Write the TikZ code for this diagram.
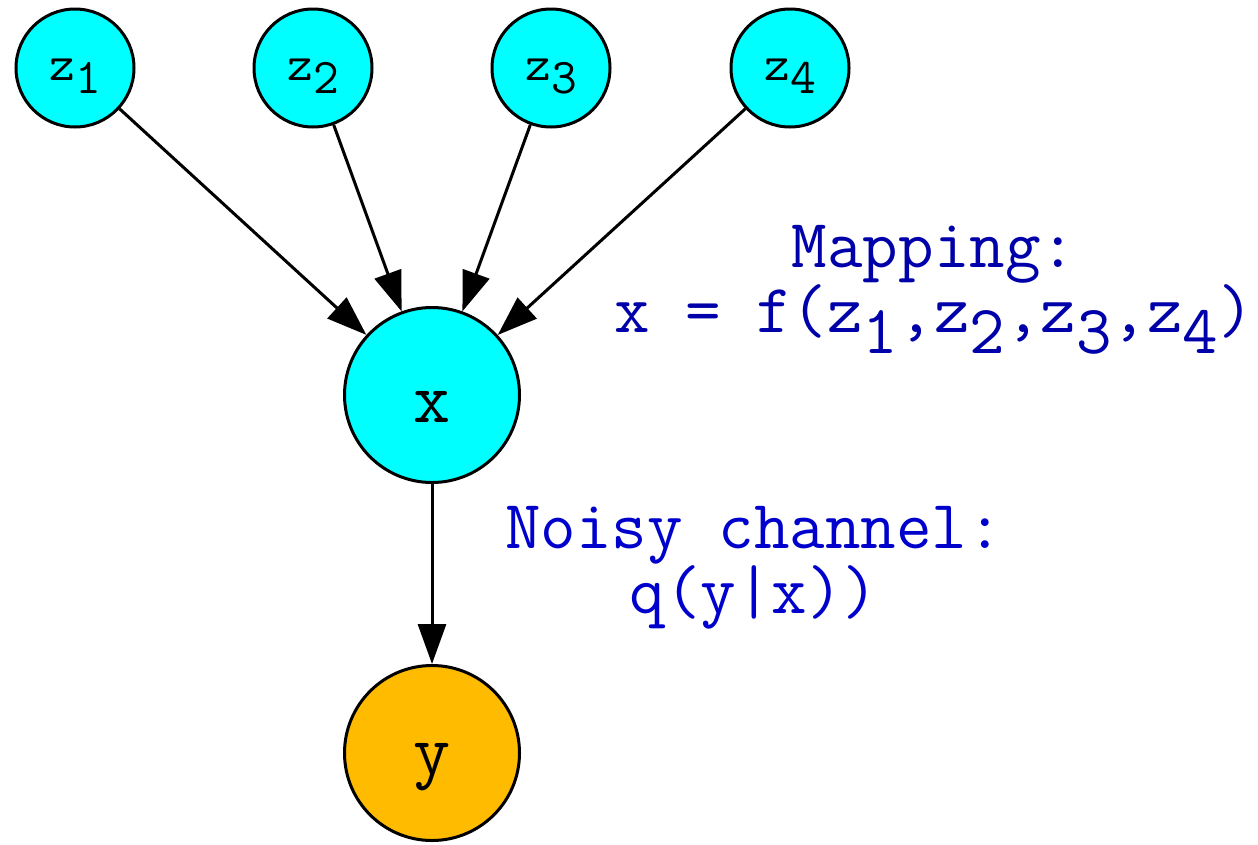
\documentclass[tikz,border=0pt]{standalone}
\usetikzlibrary{arrows.meta}
\definecolor{nodecyan}{RGB}{0,255,255}
\definecolor{nodeorange}{RGB}{255,187,0}
\definecolor{mapblue}{RGB}{0,0,170}
\definecolor{noisyblue}{RGB}{0,0,205}
\newcommand\lowsub[2]{\raisebox{-#1}{#2}}
\newcommand\dropto[2]{\raisebox{-#1}[0pt][0pt]{#2}}
\tikzset{
  zvar/.style={circle,draw=black,line width=3pt,fill=nodecyan,minimum size=118pt,inner sep=0pt,
    font=\ttfamily\fontsize{50}{50}\selectfont},
  bigvar/.style={circle,draw=black,line width=3pt,minimum size=175pt,inner sep=0pt,
    font=\ttfamily\fontsize{72}{72}\selectfont},
  edge/.style={line width=3pt,-{Triangle[length=40pt,width=28pt]}},
  note/.style={align=center,font=\ttfamily\fontsize{69}{59}\selectfont,inner sep=0pt}
}
\begin{document}
\begin{tikzpicture}[x=1pt,y=-1pt]
\useasboundingbox (0,0) rectangle (1258,844);
\node[zvar] (z1) at (75,68) {\dropto{12pt}{z\lowsub{0.26em}{1}}};
\node[zvar] (z2) at (313,68) {\dropto{12pt}{z\lowsub{0.26em}{2}}};
\node[zvar] (z3) at (551,68) {\dropto{12pt}{z\lowsub{0.26em}{3}}};
\node[zvar] (z4) at (790,68) {\dropto{12pt}{z\lowsub{0.26em}{4}}};
\node[bigvar,fill=nodecyan] (x) at (432,395) {\dropto{27pt}{x}};
\node[bigvar,fill=nodeorange] (y) at (432,753) {\dropto{21pt}{y}};
\draw[edge] (z1) -- (x);
\draw[edge] (z2) -- (x);
\draw[edge] (z3) -- (x);
\draw[edge] (z4) -- (x);
\draw[edge] (x) -- (y);
\node[note,text=mapblue] (map) at (934,290) {Mapping:\\x = f(z\lowsub{0.3em}{1},z\lowsub{0.3em}{2},z\lowsub{0.3em}{3},z\lowsub{0.3em}{4})};
\node[note,text=noisyblue] (noisy) at (754,568) {Noisy channel:\\q(y|x))};
\end{tikzpicture}
\end{document}
